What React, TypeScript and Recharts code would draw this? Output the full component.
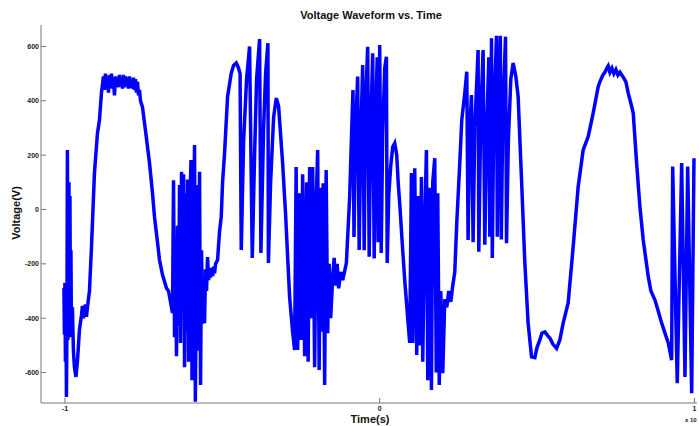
import { LineChart, Line, XAxis, YAxis } from 'recharts'

// time axis values (axis units, x 10^n s)
const timeValues = [
  -1.0032, -1.0016, -1.0, -0.9984, -0.9968, -0.9952, -0.9936, -0.9921, -0.9905, -0.9889,
  -0.9873, -0.9857, -0.9841, -0.9825, -0.9809, -0.9793, -0.9762, -0.973, -0.9698, -0.965,
  -0.9603, -0.9539, -0.9475, -0.9444, -0.9412, -0.9348, -0.9316, -0.9285, -0.9221, -0.9157,
  -0.9062, -0.8967, -0.8903, -0.8839, -0.8776,
  -0.8744, -0.8712, -0.868, -0.8649, -0.8617, -0.8585, -0.8553, -0.8521, -0.849, -0.8458,
  -0.8426, -0.8394, -0.8362, -0.8331, -0.8299, -0.8267, -0.8235, -0.8203, -0.8172, -0.814,
  -0.8108, -0.8076, -0.8045, -0.8013, -0.7981, -0.7949, -0.7917, -0.7886, -0.7854, -0.7822,
  -0.779, -0.7758, -0.7727, -0.7695, -0.7663, -0.7631, -0.7599, -0.7536, -0.744, -0.7313,
  -0.7218, -0.7154, -0.7059, -0.6995, -0.69, -0.6836, -0.6773, -0.6709, -0.6646, -0.6582,
  -0.655, -0.6518, -0.6487, -0.6455, -0.6423, -0.6391, -0.6359, -0.6328, -0.6296, -0.6264,
  -0.6232, -0.62, -0.6169, -0.6137, -0.6105, -0.6073, -0.6041, -0.5994, -0.5962, -0.5914,
  -0.5882, -0.5857, -0.5819, -0.5787, -0.5755, -0.5723, -0.5692, -0.566, -0.5628, -0.5596,
  -0.5564, -0.5533, -0.5501, -0.5469, -0.5437, -0.5405, -0.5374, -0.5342, -0.531, -0.5278,
  -0.5247, -0.5215, -0.5151, -0.5088, -0.5034, -0.4992, -0.4929, -0.4833, -0.4715, -0.4642,
  -0.4557, -0.4483, -0.4436, -0.4398, -0.4324, -0.4229, -0.4134, -0.4048, -0.3975, -0.3911,
  -0.3816, -0.3774, -0.3688, -0.3625, -0.3552, -0.3536, -0.3466, -0.337, -0.3285, -0.3212,
  -0.3084, -0.2989, -0.2862, -0.2766, -0.2703,
  -0.2655, -0.2607, -0.2544, -0.2496, -0.2448, -0.2385, -0.2321, -0.2273, -0.2226, -0.2172,
  -0.213, -0.2067, -0.2013, -0.1971, -0.1924, -0.1876, -0.1828, -0.1797, -0.1749, -0.1701,
  -0.1653, -0.1606, -0.1558, -0.1494, -0.1447, -0.1399, -0.1351, -0.1304, -0.124, -0.1176,
  -0.1059, -0.0954, -0.089,
  -0.0849, -0.0817, -0.0763, -0.07, -0.0652, -0.0604, -0.0541, -0.0493, -0.0445, -0.0382,
  -0.0334, -0.0286, -0.0223, -0.0175, -0.0127, -0.0079, -0.0048, 0.0, 0.0048, 0.0095,
  0.0159, 0.0213, 0.0238, 0.0286, 0.035, 0.0413, 0.0477, 0.0541, 0.0588, 0.0636,
  0.0731, 0.0795, 0.089, 0.0954,
  0.1008, 0.1049, 0.1113, 0.1176, 0.1224, 0.1272, 0.1326, 0.1367, 0.1431, 0.1485,
  0.1526, 0.159, 0.1644, 0.1685, 0.1749, 0.1797, 0.1844, 0.1892, 0.194, 0.2003,
  0.2067, 0.213, 0.2194, 0.2258, 0.2321, 0.2385, 0.2448, 0.2544, 0.2607, 0.2703,
  0.2766, 0.2808, 0.2862, 0.2916, 0.2967, 0.3021, 0.3126, 0.3148, 0.3212, 0.3285,
  0.3339, 0.3402, 0.3466, 0.3498, 0.3552, 0.3577, 0.3625, 0.3711, 0.3736, 0.3784,
  0.3832, 0.3863, 0.3911, 0.3997, 0.4029, 0.4086, 0.4165, 0.4239, 0.4324, 0.4398,
  0.4506, 0.4611, 0.4715, 0.4824, 0.4929, 0.4992, 0.5087, 0.5151, 0.5247, 0.5342,
  0.5405, 0.5501, 0.5619, 0.5723, 0.5828, 0.5987, 0.6146, 0.6305, 0.6464, 0.6623,
  0.6782, 0.6941, 0.6995, 0.7091, 0.7154, 0.7218, 0.7259, 0.7313, 0.7377, 0.744,
  0.7504, 0.7568, 0.7631, 0.7727, 0.7822, 0.7895, 0.7981, 0.8054, 0.8162, 0.8267,
  0.8372, 0.8531, 0.8617, 0.8744, 0.8839, 0.8957, 0.9062, 0.9167, 0.9275, 0.9307,
  0.9453, 0.9593, 0.9698, 0.9784, 0.9911, 0.9984,
]

// voltage readings (V)
const voltageValues = [
  -290, -460, -270, -560, -330, -690, -420, 219, -480, -380,
  100, -440, 50, -400, -150, -470, -360, -520, -580, -616,
  -560, -443, -390, -355, -400, -350, -395, -360, -300, -140,
  134, 280, 329, 430, 490,
  440, 500, 450, 485, 430, 495, 455, 500, 445, 480,
  420, 490, 455, 485, 450, 495, 455, 480, 445, 495,
  450, 490, 455, 485, 445, 490, 450, 480, 445, 485,
  440, 480, 430, 470, 420, 440, 400, 377, 290, 171,
  60, -28, -120, -186, -240, -265, -290, -300, -340, -381,
  108, -470, -200, -540, -60, -430, 90, -491, 139, -350,
  130, -580, 60, -450, 110, -560, -20, 182, -628, -100,
  237, -707, -200, 90, -520, 139, -646, -150, -420, -260,
  -418, -220, -300, -175, -260, -220, -250, -215, -245, -210,
  -235, -200, -186, -80, -27, 100, 207, 415, 502, 530,
  539, 520, 500, -149, 250, 480, 600, -178, 200, 480,
  627, -160, 300, 500, 612, -197, 100, 340, 410, 380,
  171, -20, -322, -450, -517,
  156, -517, 60, -480, 130, -540, 100, -560, 156, -400,
  156, -580, 50, 219, -591, 80, -450, 97, -646, 145,
  -455, -200, -400, -250, -178, -280, -200, -290, -230, -260,
  -197, 46, 293,
  440, -101, 300, 489, -149, 250, 532, -150, 400, 599,
  -174, 300, 575, -180, 350, 560, -120, 605, -160, 280,
  520, 562, -197, 50, 160, 230, 244, 200, 97, 23,
  -150, -260, -400, -491,
  134, -491, 152, -535, 50, -500, 120, -560, -50, 219,
  -628, 80, -664, 100, 189, -600, 60, -646, -300, -602,
  -330, -360, -300, -340, -280, -230, -50, 171, 330, 428,
  507, -112, 300, 421, -120, 300, 587, -155, 350, 587,
  -130, 300, 560, -100, 630, -178, 350, 639, -100, 400,
  639, -110, 350, 636, -124, 250, 480, 539, 490, 415,
  108, -197, -418, -542, -545, -510, -480, -455, -450, -465,
  -473, -495, -511, -480, -418, -344, -137, 84, 219, 268,
  355, 452, 470, 495, 505, 520, 528, 505, 520, 500,
  515, 495, 505, 489, 470, 428, 390, 355, 171, 10,
  -112, -247, -300, -333, -370, -418, -455, -491, -554, 158,
  -639, 171, -616, 158, -676, 189,
]

const xTicks = [-1, 0, 1]
const yTicks = [-600, -400, -200, 0, 200, 400, 600]

const chartData = timeValues.map((t, i) => ({ t, v: voltageValues[i] }))

const FONT = 'Arial, "Liberation Sans", Helvetica, sans-serif'
const AXIS = '#777'

function BottomTick({ x, y, payload }: any) {
  return (
    <g>
      <line x1={x} y1={y} x2={x} y2={y - 5} stroke={AXIS} />
      <text x={x} y={y + 8} textAnchor="middle" fontSize={7} fontWeight="bold" fill="#222" fontFamily={FONT}>
        {payload.value}
      </text>
    </g>
  )
}

function TopTick({ x, y }: any) {
  return <line x1={x} y1={y} x2={x} y2={y + 5} stroke={AXIS} />
}

function LeftTick({ x, y, payload }: any) {
  return (
    <g>
      <line x1={x} y1={y} x2={x + 5} y2={y} stroke={AXIS} />
      <text x={x - 2} y={y + 2.5} textAnchor="end" fontSize={7} fontWeight="bold" fill="#222" fontFamily={FONT}>
        {payload.value}
      </text>
    </g>
  )
}

function RightTick({ x, y }: any) {
  return <line x1={x} y1={y} x2={x - 5} y2={y} stroke={AXIS} />
}

export default function App() {
  return (
    <div style={{ position: 'absolute', left: 0, top: 0, width: 699, height: 426, background: '#fff' }}>
      <LineChart width={699} height={426} data={chartData} margin={{ top: 25, right: 2, bottom: 0, left: 0 }}>
        <XAxis
          dataKey="t"
          type="number"
          domain={[-1.076, 1.008]}
          ticks={xTicks}
          allowDataOverflow
          height={23}
          tickSize={0}
          tickMargin={0}
          tickLine={false}
          axisLine={{ stroke: AXIS }}
          tick={<BottomTick />}
        />
        <XAxis
          xAxisId="top"
          orientation="top"
          type="number"
          domain={[-1.076, 1.008]}
          ticks={xTicks}
          allowDataOverflow
          height={0}
          tickSize={0}
          tickMargin={0}
          tickLine={false}
          axisLine={{ stroke: AXIS }}
          tick={<TopTick />}
        />
        <YAxis
          type="number"
          domain={[-712, 679]}
          ticks={yTicks}
          allowDataOverflow
          width={41}
          tickSize={0}
          tickMargin={0}
          tickLine={false}
          axisLine={{ stroke: AXIS }}
          tick={<LeftTick />}
        />
        <YAxis
          yAxisId="right"
          orientation="right"
          type="number"
          domain={[-712, 679]}
          ticks={yTicks}
          allowDataOverflow
          width={0}
          tickSize={0}
          tickMargin={0}
          tickLine={false}
          axisLine={{ stroke: AXIS }}
          tick={<RightTick />}
        />
        <Line
          type="linear"
          dataKey="v"
          stroke="#0000ff"
          strokeWidth={3.5}
          strokeLinejoin="miter"
          dot={false}
          isAnimationActive={false}
        />
      </LineChart>
      <svg width={699} height={426} style={{ position: 'absolute', left: 0, top: 0, pointerEvents: 'none' }}>
        <text x={371} y={19} textAnchor="middle" fontSize={11} fontWeight="bold" fill="#111" fontFamily={FONT}>
          Voltage Waveform vs. Time
        </text>
        <text
          x={20}
          y={213}
          textAnchor="middle"
          fontSize={11}
          fontWeight="bold"
          fill="#111"
          fontFamily={FONT}
          transform="rotate(-90 20 213)"
        >
          Voltage(V)
        </text>
        <text x={370} y={423} textAnchor="middle" fontSize={11} fontWeight="bold" fill="#111" fontFamily={FONT}>
          Time(s)
        </text>
        <text x={685} y={422} fontSize={6} fontWeight="bold" fill="#222" fontFamily={FONT}>
          x 10
        </text>
      </svg>
    </div>
  )
}
